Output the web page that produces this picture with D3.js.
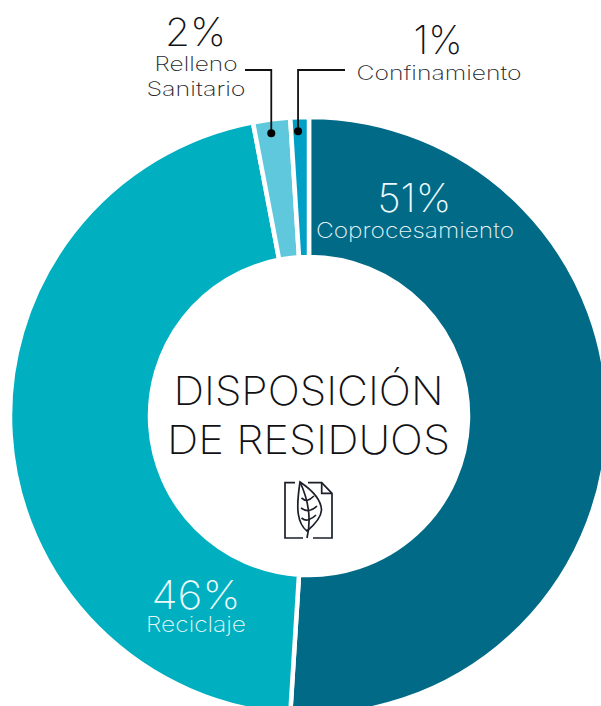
<!DOCTYPE html>
<html>
<head>
<meta charset="utf-8">
<script src="https://cdn.jsdelivr.net/npm/d3@7"></script>
<style>
html, body { margin: 0; padding: 0; background: #fff; overflow: hidden; }
svg { display: block; }
text { font-family: "Inter", sans-serif; font-weight: 200; }
</style>
</head>
<body>
<svg></svg>
<script>
// values in pie order, clockwise from 12 o'clock
var categories = ["Coprocesamiento", "Reciclaje", "Relleno Sanitario", "Confinamiento"];
var percents = [51, 46, 2, 1];
var colors = ["#006a87", "#00b0c0", "#5fc8dc", "#00a0c6"];
var titleLines = ["DISPOSICIÓN", "DE RESIDUOS"];

var screen_ = {width: 601, height: 706};
var cx = 309, cy = 416;
var outerR = 299, innerR = 159;

var svg = d3.select("svg")
    .attr("width", screen_.width)
    .attr("height", screen_.height);

var chart = svg.append("g")
    .attr("transform", "translate(" + cx + "," + cy + ")");

var pie = d3.pie().sort(null).value(function(d) { return d; });
var arc = d3.arc().innerRadius(innerR).outerRadius(outerR);
var slices = pie(percents);

chart.selectAll(".slice")
    .data(slices)
    .enter()
    .append("path")
    .attr("class", "slice")
    .attr("d", arc)
    .attr("fill", function(d, i) { return colors[i]; })
    .attr("stroke", "#fff")
    .attr("stroke-width", 4.5);

// text inside the two big slices
var addText = function(x, y, str, size, color, len)
{
    return svg.append("text")
        .attr("x", x)
        .attr("y", y)
        .attr("text-anchor", "middle")
        .attr("font-size", size)
        .attr("fill", color)
        .attr("textLength", len)
        .attr("lengthAdjust", "spacingAndGlyphs")
        .text(str);
}

addText(414.5, 212, percents[0] + "%", 39, "#eef8fa", 74);
addText(415, 238, categories[0], 21, "#e4f3f6", 198);
addText(196, 609, percents[1] + "%", 39, "#eefafb", 89);
addText(196, 632, categories[1], 21, "#e4f7f9", 100);

// small slices, labels outside
addText(195.5, 46, percents[2] + "%", 39, "#111317", 61);
addText(196, 71, "Relleno", 20, "#26282c", 83);
addText(196, 96, "Sanitario", 20, "#26282c", 99);
addText(438, 54, percents[3] + "%", 39, "#111317", 49);
addText(439, 80, categories[3], 20, "#26282c", 165);

// leader lines with a dot on the slice
var leaderR = 285, leaderTop = 70, leaderShift = -2;
var leaders = [
    {slice: slices[2], end: 245},
    {slice: slices[3], end: 345}
];
var dotPos = function(d)
{
    var a = (d.slice.startAngle + d.slice.endAngle) / 2;
    return [cx + leaderShift + leaderR * Math.sin(a), cy - leaderR * Math.cos(a)];
}
svg.selectAll(".leader")
    .data(leaders)
    .enter()
    .append("path")
    .attr("class", "leader")
    .attr("fill", "none")
    .attr("stroke", "#111")
    .attr("stroke-width", 1.8)
    .attr("d", function(d)
    {
        var p = dotPos(d);
        return "M" + p[0] + "," + p[1] + "V" + leaderTop + "H" + d.end;
    });
svg.selectAll(".dot")
    .data(leaders)
    .enter()
    .append("circle")
    .attr("class", "dot")
    .attr("cx", function(d) { return dotPos(d)[0]; })
    .attr("cy", function(d) { return dotPos(d)[1]; })
    .attr("r", 4)
    .attr("fill", "#000");

// center title
addText(308.5, 405, titleLines[0], 40, "#111114", 270);
addText(308.5, 454, titleLines[1], 40, "#111114", 283);

// document + leaf icon
var icon = svg.append("g")
    .attr("fill", "none")
    .attr("stroke", "#1b1f2a")
    .attr("stroke-width", 1.7);
icon.append("path").attr("d", "M295,482.7H285V538H303");
icon.append("path").attr("d", "M308,482.7H321.7L332,493.3V538H313");
icon.append("path").attr("d", "M321.7,482.7V493.3H332");
icon.append("path").attr("d", "M300,482C298,495 297,505 298.3,514C299.5,522 303,528 307,531C313,526 321,519 321.5,510C321,498 309,488 300,482Z");
icon.append("path").attr("d", "M300,482C307,497 312,517 307,538");
icon.append("path").attr("d", "M301.5,498C304,500 306,500.5 306.8,500.5C309,500 312,498 314,496");
icon.append("path").attr("d", "M301,508C304,510 307,511 309,510.5C312,510 315,508 317,506");
icon.append("path").attr("d", "M301.5,518C304,520 307,520.5 309,519.5C312,518.5 314,517 316,515");
</script>
</body>
</html>
